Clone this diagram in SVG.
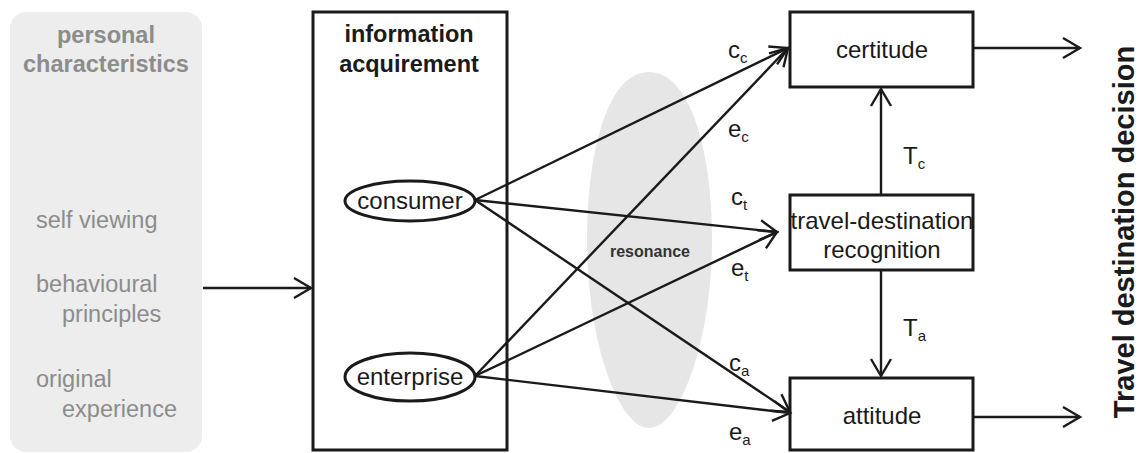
<svg xmlns="http://www.w3.org/2000/svg" width="1143" height="453" viewBox="0 0 1143 453">
<style>
.box{fill:#fff;stroke:#1a1a1a;stroke-width:3}
.ell{fill:#fff;stroke:#1a1a1a;stroke-width:3}
.t{font-family:"Liberation Sans",Arial,sans-serif;fill:#1a1a1a;font-size:24px}
.b{font-weight:bold}
.g{fill:#8c8c8c;font-size:23.5px}
.c{text-anchor:middle}
.ln{stroke:#1a1a1a;stroke-width:2.4;fill:none;marker-end:url(#ah)}
.sub{font-size:15px}
</style>
<defs>
<marker id="ah" markerUnits="userSpaceOnUse" markerWidth="24" markerHeight="26" viewBox="-20 -13 24 26" refX="0" refY="0" orient="auto">
<path d="M-17,-10 L0,0 L-17,10" fill="none" stroke="#1a1a1a" stroke-width="2.4"/>
</marker>
</defs>
<rect width="1143" height="453" fill="#fff"/>
<g id="personal">
<rect x="10" y="12" width="192" height="440" rx="16" fill="#ededed"/>
<text class="t b g c" x="106" y="43">personal</text>
<text class="t b g c" x="106" y="72">characteristics</text>
<text class="t g" x="36" y="228">self viewing</text>
<text class="t g" x="36" y="292">behavioural</text>
<text class="t g" x="62" y="322">principles</text>
<text class="t g" x="36" y="387">original</text>
<text class="t g" x="62" y="417">experience</text>
</g>
<g id="resonance">
<path d="M649,72 C690,72 712,150 712,240 C712,340 680,428 649,428 C618,428 587,340 587,240 C587,150 608,72 649,72 Z" fill="#e6e6e6"/>
<text class="t b c" x="650" y="257" style="font-size:16px;fill:#333">resonance</text>
</g>
<g id="info">
<rect x="313" y="12" width="194" height="438" fill="none" stroke="#1a1a1a" stroke-width="3"/>
<text class="t b c" x="409" y="42" style="font-size:23.5px">information</text>
<text class="t b c" x="409" y="72" style="font-size:23.5px">acquirement</text>
</g>
<g id="consumer">
<ellipse class="ell" cx="410" cy="201" rx="65" ry="20"/>
<text class="t c" x="410" y="209">consumer</text>
</g>
<g id="enterprise">
<ellipse class="ell" cx="410" cy="377" rx="65" ry="24"/>
<text class="t c" x="410" y="385">enterprise</text>
</g>
<g id="certitude">
<rect class="box" x="790" y="12" width="183" height="75"/>
<text class="t c" x="882" y="58">certitude</text>
</g>
<g id="recognition">
<rect class="box" x="790" y="195" width="183" height="75"/>
<text class="t c" x="882" y="229">travel-destination</text>
<text class="t c" x="882" y="258">recognition</text>
</g>
<g id="attitude">
<rect class="box" x="790" y="378" width="183" height="72"/>
<text class="t c" x="882" y="424">attitude</text>
</g>
<g id="decision">
<text class="t b c" x="0" y="0" transform="translate(1134,232) rotate(-90)" style="font-size:29px">Travel destination decision</text>
</g>
<g id="connectors">
<line class="ln" x1="203" y1="288" x2="311" y2="288"/>
<line class="ln" x1="475" y1="200" x2="788" y2="48"/>
<line class="ln" x1="475" y1="200" x2="777" y2="232"/>
<line class="ln" x1="475" y1="200" x2="790" y2="412"/>
<line class="ln" x1="475" y1="376" x2="788" y2="48"/>
<line class="ln" x1="475" y1="376" x2="777" y2="232"/>
<line class="ln" x1="475" y1="376" x2="790" y2="413"/>
<line class="ln" x1="881" y1="195" x2="881" y2="89"/>
<line class="ln" x1="881" y1="270" x2="881" y2="376"/>
<line class="ln" x1="973" y1="48" x2="1080" y2="48"/>
<line class="ln" x1="973" y1="417" x2="1080" y2="417"/>
</g>
<g id="labels">
<text class="t" x="728" y="58">c<tspan class="sub" dy="5">c</tspan></text>
<text class="t" x="728" y="137">e<tspan class="sub" dy="5">c</tspan></text>
<text class="t" x="731" y="205">c<tspan class="sub" dy="5">t</tspan></text>
<text class="t" x="731" y="276">e<tspan class="sub" dy="5">t</tspan></text>
<text class="t" x="729" y="371">c<tspan class="sub" dy="5">a</tspan></text>
<text class="t" x="729" y="440">e<tspan class="sub" dy="5">a</tspan></text>
<text class="t" x="903" y="164">T<tspan class="sub" dy="5">c</tspan></text>
<text class="t" x="903" y="336">T<tspan class="sub" dy="5">a</tspan></text>
</g>
</svg>
